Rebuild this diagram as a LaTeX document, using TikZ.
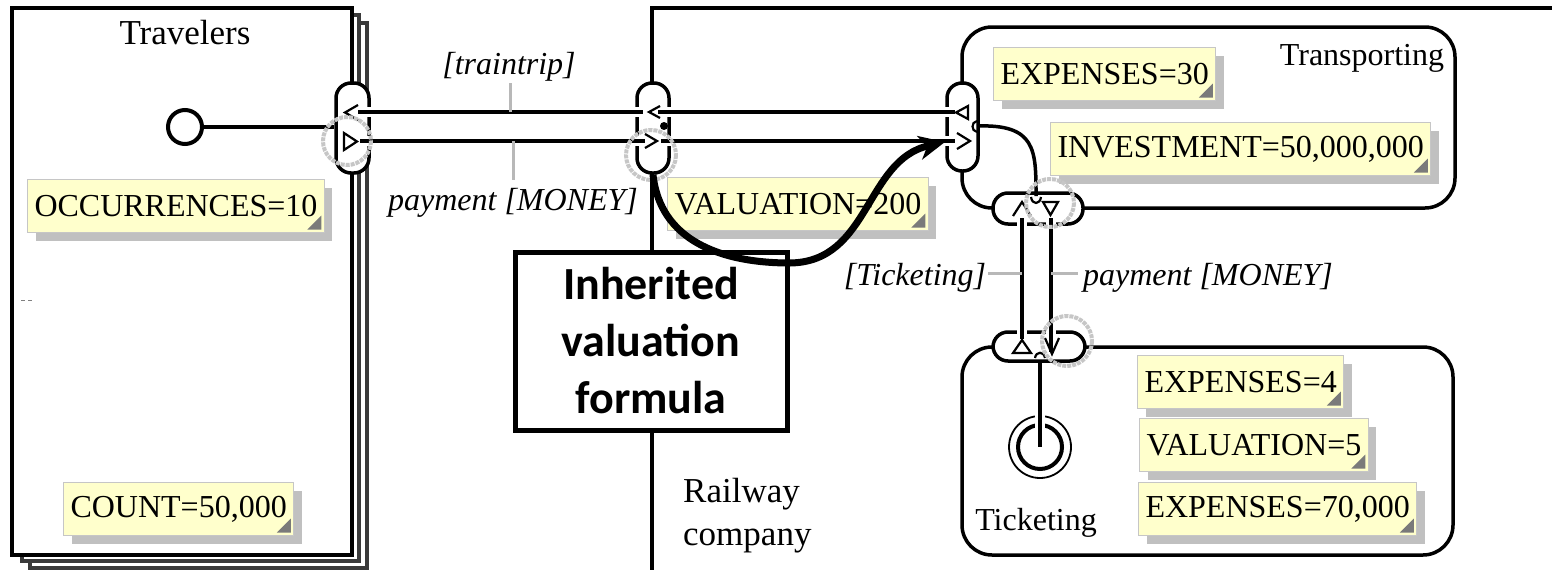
\documentclass[tikz,border=0pt]{standalone}
\usepackage{fontspec}
\setmainfont{Liberation Serif}
\newfontfamily\calibfont{Carlito}
\usetikzlibrary{shadows,arrows.meta}
\definecolor{notefill}{HTML}{FFFFCC}
\definecolor{noteshade}{HTML}{C0C0C0}
\definecolor{foldgray}{HTML}{7A7A7A}
\definecolor{stackgray}{HTML}{3A3A3A}
\definecolor{tickgray}{HTML}{B8B8B8}

\tikzset{
  txt/.style={font=\fontsize{32}{38}\selectfont, inner sep=0pt},
  bigtxt/.style={font=\fontsize{35}{43}\selectfont, inner sep=0pt},
  lbl/.style={font=\fontsize{32}{38}\selectfont\itshape, inner sep=0pt},
  note/.style={draw=gray!45, line width=1pt, fill=notefill, anchor=north west,
    minimum height=53pt, inner xsep=7pt, inner ysep=0pt,
    font=\fontsize{32}{38}\selectfont,
    drop shadow={shadow xshift=8pt, shadow yshift=-8pt, fill=noteshade, opacity=1},
    path picture={\fill[foldgray]
      ([xshift=-3pt,yshift=3pt]path picture bounding box.south east)
      -- ++(0pt,14pt) -- ++(-14pt,-14pt) -- cycle;}},
  frame/.style={draw, line width=4pt, fill=white},
  stack/.style={draw=stackgray, line width=3.5pt, fill=white},
  part/.style={draw, line width=3.5pt, rounded corners=30pt, inner sep=0pt},
  portbox/.style={draw, fill=white, line width=3.5pt, rounded corners=15pt,
    inner sep=0pt, rectangle},
  flow/.style={line width=3.5pt},
  wcut/.style={preaction={draw=white, line width=10pt}},
  portmark/.style={line width=2.2pt, line join=miter},
  halo/.style={draw=gray!45, line width=4pt, densely dotted},
  tick/.style={draw=tickgray, line width=3pt},
}

\begin{document}
\begin{tikzpicture}[x=1pt, y=-1pt]
\path[use as bounding box] (0,0) rectangle (1552,570);

% --- Travelers: a stack of three frames ---
\draw[stack] (30,23) rectangle (367,568);
\draw[stack] (22,15) rectangle (359,561);
\node[frame, minimum width=340pt, minimum height=547pt, inner sep=0pt] (trav) at (182,281.5) {};
\node[bigtxt] (travlbl) at (185,33) {Travelers};
\draw[gray, line width=1pt] (21,300) -- (25,300) (28,300) -- (32,300);

% --- Railway company boundary ---
\draw[line width=3.5pt] (1552,8) -- (652,8) -- (652,570);
\node[bigtxt, anchor=north west, align=left] (rail) at (683,478) {Railway\\company};

% --- Transporting and Ticketing parts ---
\node[part, minimum width=493pt, minimum height=181pt] (trans) at (1208.5,117.5) {};
\node[part, minimum width=491pt, minimum height=208pt] (tick) at (1207.5,451) {};
\node[txt] (translbl) at (1362,58) {Transporting};
\node[txt] (ticklbl) at (1036,523) {Ticketing};

% --- attribute notes ---
\node[note] (occ) at (27,179) {OCCURRENCES=10};
\node[note] (cnt) at (63,482) {COUNT=50,000};
\node[note] (val200) at (667,177) {VALUATION=200};
\node[note] (exp30) at (993,47) {EXPENSES=30};
\node[note] (inv) at (1050,122) {INVESTMENT=50,000,000};
\node[note] (exp4) at (1137,355) {EXPENSES=4};
\node[note] (val5) at (1139,418) {VALUATION=5};
\node[note] (exp70) at (1138,482) {EXPENSES=70,000};

% --- ports ---
\node[portbox, minimum width=33pt, minimum height=90pt] (p1) at (352.5,128) {};
\node[portbox, minimum width=32pt, minimum height=90pt] (p2) at (653,128) {};
\node[portbox, minimum width=31pt, minimum height=88pt] (p3) at (962.5,127) {};
\node[portbox, minimum width=90pt, minimum height=31pt] (p4) at (1038,208.5) {};
\node[portbox, minimum width=92pt, minimum height=29pt] (p5) at (1039,346.5) {};

% --- Travelers start state ---
\node[circle, draw, line width=4pt, minimum size=34pt, inner sep=0pt, fill=white] (trstart) at (185,127) {};
\draw[flow] (trstart.east) -- (p1.west |- trstart.east);

% --- flows between Travelers and Railway company ---
\coordinate (tt1) at (358,112);
\coordinate (tt2) at (643,112);
\coordinate (tt3) at (658,112);
\coordinate (tt4) at (955,112);
\coordinate (pm1) at (360,141);
\coordinate (pm2) at (645,141);
\coordinate (pm3) at (661,141);
\coordinate (pm4) at (955,141);
\draw[flow, wcut] (tt1) -- (tt2);
\draw[flow, wcut] (tt3) -- (tt4);
\draw[flow, wcut] (pm1) -- (pm2);
\draw[flow, wcut] (pm3) -- (pm4);

% --- flows between Transporting and Ticketing ---
\coordinate (tk1) at (1022,218);
\coordinate (tk2) at (1022,339);
\coordinate (py1) at (1051,218);
\coordinate (py2) at (1051,352);
\draw[flow, wcut] (tk1) -- (tk2);
\draw[flow, wcut] (py1) -- (py2);
\draw[flow] (977,126) .. controls (1036,124) and (1036,150) .. (1036,196);

% --- Ticketing end state ---
\node[circle, draw, line width=1.8pt, minimum size=62pt, inner sep=0pt] (tkend) at (1040,447) {};
\node[circle, draw, line width=4pt, minimum size=44pt, inner sep=0pt] (tkend2) at (1040,447) {};
\draw[flow, wcut] (p5.south -| tkend.center) -- (tkend.center);

% --- port symbols ---
\draw[portmark] (358,105) -- (345,112.5) -- (358,120);
\draw[portmark] (344,133) -- (344,150) -- (357,141.5) -- cycle;
\draw[portmark] (660,106) -- (649,112) -- (660,118);
\fill (664,126) circle (4);
\draw[portmark] (645,134) -- (657,141) -- (645,148);
\draw[portmark] (968,106) -- (956,112.5) -- (968,119) -- cycle;
\draw[portmark] (957,133) -- (970,141) -- (957,149);
\draw[portmark] (977,121) .. controls (971,122) and (971,131) .. (977,132);
\draw[portmark] (1013,216) -- (1022,202) -- (1031,216);
\draw[portmark] (1043,202) -- (1058,202) -- (1050.5,215) -- cycle;
\draw[portmark] (1031,197) .. controls (1032,205) and (1040,205) .. (1041,197);
\draw[portmark] (1013,353) -- (1031,353) -- (1022,340) -- cycle;
\draw[portmark] (1045,338) -- (1052,354) -- (1059,338);
\draw[portmark] (1035,358) .. controls (1036,351) and (1044,351) .. (1045,358);

% --- dotted highlight rings ---
\draw[halo] (347,141) circle (24);
\draw[halo] (651,155) circle (25);
\draw[halo] (1050,203) circle (24);
\draw[halo] (1067,341) circle (25);

% --- flow labels ---
\node[lbl] (lbtt) at (509,67) {[traintrip]};
\node[lbl] (lbpm) at (513,203) {payment [MONEY]};
\node[lbl] (lbtk) at (915,278) {[Ticketing]};
\node[lbl] (lbpm2) at (1208,278) {payment [MONEY]};
\draw[tick] (510,83) -- (510,112);
\draw[tick] (513,141) -- (513,180);
\draw[tick] (988,273) -- (1022,273);
\draw[tick] (1051,273) -- (1078,273);

% --- inherited formula callout ---
\node[draw, fill=white, line width=5pt, minimum width=272pt, minimum height=178pt,
  inner sep=0pt, align=center, font=\calibfont\bfseries\fontsize{46}{57}\selectfont]
  (inh) at (651,341) {Inherited\\valuation\\formula};
\draw[line width=7pt, -{Stealth[length=26pt,width=24pt,inset=8pt]}]
  (p2.south) .. controls (660,240) and (720,263) .. (790,263)
  .. controls (870,262) and (865,160) .. (945,142);
\end{tikzpicture}
\end{document}
